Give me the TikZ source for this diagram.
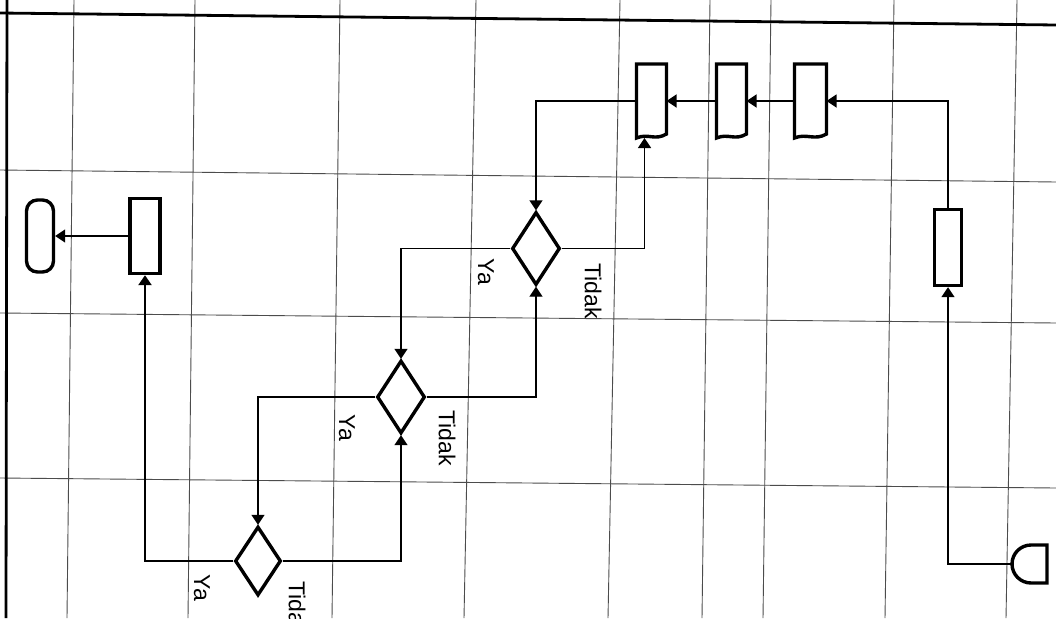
\documentclass[tikz,border=0pt]{standalone}
\usepackage{fontspec}
\setmainfont{Liberation Sans}
\usetikzlibrary{shapes.geometric,arrows.meta,calc}
\begin{document}
\begin{tikzpicture}[x=1pt,y=-1pt,
 grid/.style={draw=black!70,line width=0.9pt},
 frame/.style={draw=black,line width=2.8pt},
 shp/.style={draw=black,line width=3.4pt,fill=white,inner sep=0pt},
 proc/.style={shp,rectangle,minimum width=30pt,minimum height=75pt},
 docbox/.style={rectangle,draw=none,inner sep=0pt,outer sep=0pt,minimum width=30pt,minimum height=74pt},
 dec/.style={shp,diamond,minimum width=48pt,minimum height=73pt},
 conn/.style={draw=black,line width=1.4pt,-{Triangle[length=10pt,width=13pt]}},
 lbl/.style={font=\fontsize{23}{26}\selectfont,rotate=-90,inner sep=0pt}
]
\useasboundingbox (0,0) rectangle (1056,618);
\clip (0,0) rectangle (1056,618);
\fill[white] (0,0) rectangle (1056,618);
% grid
\foreach \a/\b in {74/67,195/188,340/332,476/464,620/608,710/702,771/763,894/885,1017/1006}
  \draw[grid] (\a,0) -- (\b,618);
\draw[grid] (0,170) -- (1056,182);
\draw[grid] (0,313) -- (1056,323);
\draw[grid] (0,478) -- (1056,488);
\draw[frame] (0,13) -- (1056,25);
\draw[frame] (7,0) -- (6,618);
% shapes
\node[shp,rectangle,rounded corners=11pt,minimum width=27pt,minimum height=72pt] (T) at (40,236) {};
\node[proc] (P) at (145,236) {};
\node[proc,minimum width=27pt,minimum height=76pt] (R) at (948,247.5) {};
\node[docbox] (A) at (651.5,101) {};
\node[docbox] (B) at (731.5,101) {};
\node[docbox,minimum width=32pt] (C) at (810.5,101) {};
\foreach \n in {A,B,C}
  \draw[shp] (\n.north west) -- (\n.north east) -- ([yshift=4pt]\n.south east)
    .. controls ([xshift=-12pt,yshift=-3pt]\n.south east) and ([xshift=12pt,yshift=5pt]\n.south west) .. (\n.south west) -- cycle;
\node[dec] (D1) at (536,248.5) {};
\node[dec] (D2) at (401,397) {};
\node[dec,minimum width=46pt,minimum height=69pt] (D3) at (258,561) {};
\draw[shp] (1047,545) -- (1031,545) arc[start angle=90,end angle=270,radius=19pt] -- (1047,583) -- cycle;
\coordinate (S) at (1012,564);
% connectors
\draw[conn] (S) -| (R.south);
\draw[conn] (R.north) |- (C.east);
\draw[conn] (C.west) -- (B.east);
\draw[conn] (B.west) -- (A.east);
\draw[conn] (A.west) -| (D1.north);
\draw[conn] (D1.east) -| ([xshift=-7pt]A.south);
\draw[conn] (D1.west) -| (D2.north);
\draw[conn] (D2.east) -| (D1.south);
\draw[conn] (D2.west) -| (D3.north);
\draw[conn] (D3.east) -| (D2.south);
\draw[conn,line width=2.4pt] (D3.west) -| (P.south);
\draw[conn] (P.west) -- (T.east);
% labels
\node[lbl] (y1) at (486,272) {Ya};
\node[lbl] (t1) at (593,291) {Tidak};
\node[lbl] (y2) at (347,428) {Ya};
\node[lbl] (t2) at (447,438) {Tidak};
\node[lbl] (y3) at (202,588) {Ya};
\node[lbl] (t3) at (297,609) {Tidak};
\end{tikzpicture}
\end{document}
